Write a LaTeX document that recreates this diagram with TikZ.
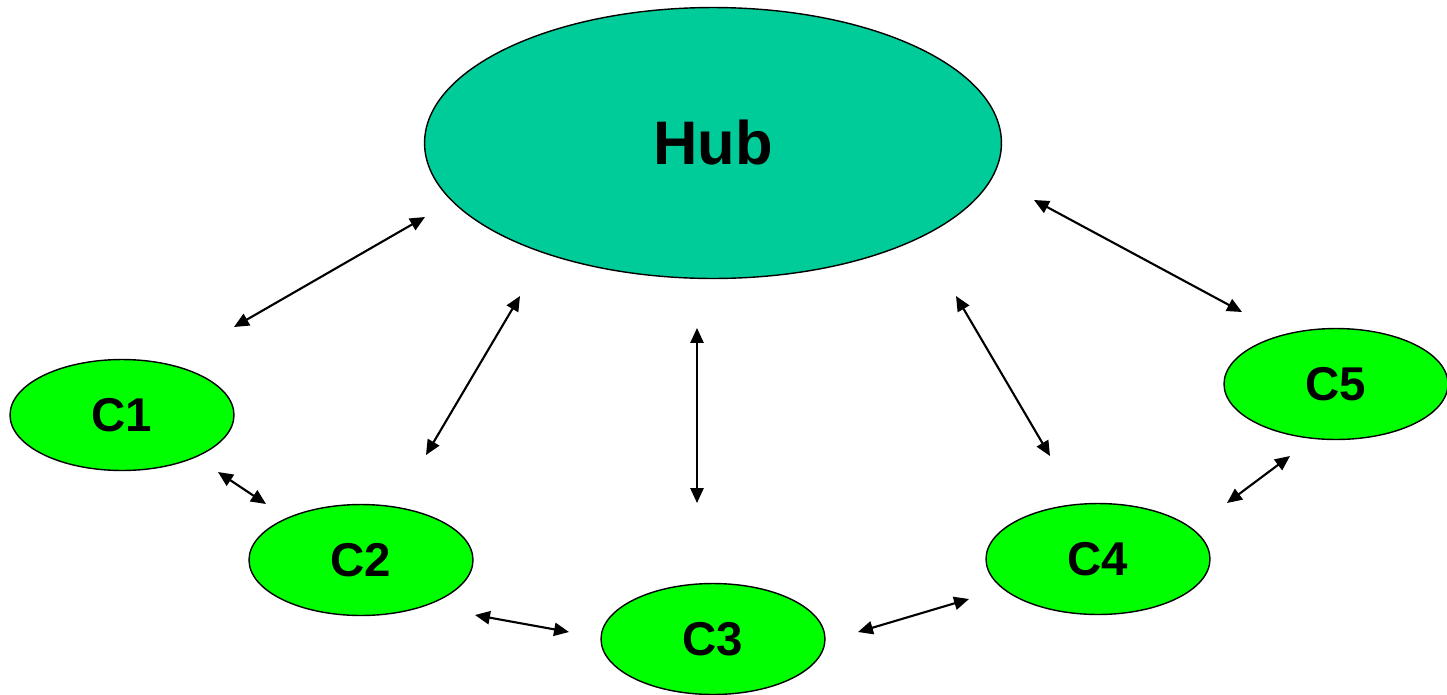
\documentclass[tikz,border=0pt]{standalone}
\usepackage{fontspec}
\setmainfont{Liberation Sans}
\usetikzlibrary{shapes.geometric,arrows.meta}
\definecolor{hubgreen}{HTML}{00CC99}
\definecolor{clientgreen}{HTML}{00FF00}
\begin{document}
\begin{tikzpicture}[x=0.02cm, y=-0.02cm,
	hub/.style={draw, ellipse, fill=hubgreen, inner sep=0pt, line width=0.8pt, minimum width=11.54cm, minimum height=5.42cm, font=\fontsize{35}{40}\selectfont\bfseries},
	client/.style={draw, ellipse, fill=clientgreen, inner sep=0pt, line width=0.8pt, minimum width=4.48cm, minimum height=2.22cm, font=\fontsize{27}{30}\selectfont\bfseries},
	link/.style={{Triangle[length=8.5pt,width=7.5pt]}-{Triangle[length=8.5pt,width=7.5pt]}, line width=1.2pt}]
	\useasboundingbox (0,0) rectangle (1447,694);
	\node [hub] (hub) at (713,143){Hub};
	\node [client] (c1) at (122,415){C1};
	\node [client] (c2) at (361,560){C2};
	\node [client] (c3) at (713,639){C3};
	\node [client] (c4) at (1098,559){C4};
	\node [client] (c5) at (1336,384){C5};
	% free ends of the arrows
	\coordinate (h1) at (425,217);
	\coordinate (k1) at (234,327);
	\coordinate (h2) at (520,296);
	\coordinate (k2) at (426,455);
	\coordinate (h3) at (697,328);
	\coordinate (k3) at (697,503);
	\coordinate (h4) at (956,296);
	\coordinate (k4) at (1050,456);
	\coordinate (h5) at (1034,200);
	\coordinate (k5) at (1242,312);
	\coordinate (p1) at (218,472);
	\coordinate (q1) at (266,504);
	\coordinate (p2) at (475,615);
	\coordinate (q2) at (569,632);
	\coordinate (p3) at (858,632);
	\coordinate (q3) at (969,599);
	\coordinate (p4) at (1227,503);
	\coordinate (q4) at (1290,456);
\foreach \to/\from in {h1/k1, h2/k2, h3/k3, h4/k4, h5/k5, p1/q1, p2/q2, p3/q3, p4/q4}
\draw [link] (\to)--(\from);
\end{tikzpicture}
\end{document}
